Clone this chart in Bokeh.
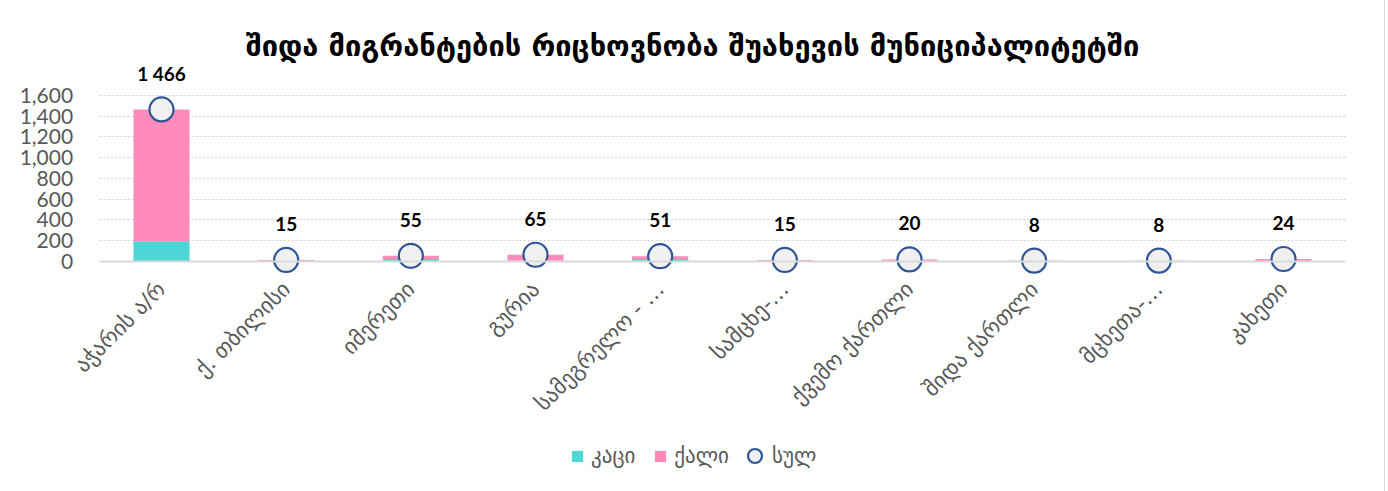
import math
from bokeh.plotting import figure
from bokeh.models import (ColumnDataSource, Range1d, FixedTicker, NumeralTickFormatter,
                          Legend, LegendItem, Title, Grid)
from bokeh.core.properties import value
from bokeh.embed import file_html
from bokeh.resources import INLINE

# ---- data ----
regions = ["აჭარის ა/რ", "ქ. თბილისი", "იმერეთი", "გურია", "სამეგრელო - …",
           "სამცხე-…", "ქვემო ქართლი", "შიდა ქართლი", "მცხეთა-…", "კახეთი"]
male = [195, 2, 15, 6, 14, 1, 2, 1, 1, 4]
total = [1466, 15, 55, 65, 51, 15, 20, 8, 8, 24]
female = [t - m for t, m in zip(total, male)]
y_ticks = [0, 200, 400, 600, 800, 1000, 1200, 1400, 1600]
title_text = "შიდა მიგრანტების რიცხოვნობა შუახევის მუნიციპალიტეტში"
series_names = ["კაცი", "ქალი", "სულ"]

colors = ["#4FD6D6", "#FF8BBA"]
GEO = "DejaVu Sans"
NUM = "Lato"

n = len(regions)
pos = list(range(n))
src = ColumnDataSource(dict(
    x=pos, male=male, female=female, total=total,
    lbl=[f"{v:,}".replace(",", " ") for v in total],
))

W, H = 1384, 491
p = figure(x_range=Range1d(-1.2914, -1.2914 + W / 124.67),
           y_range=Range1d(-2217, 1918),
           width=W, height=H,
           min_border_left=0, min_border_right=0,
           min_border_top=62, min_border_bottom=0,
           output_backend="svg", toolbar_location=None,
           background_fill_color="white", border_fill_color="white")
p.outline_line_color = None
p.styles = {"outline": "1px solid #d9d9d9"}

t = Title(text=title_text, align="center", text_font=GEO, text_font_size="29px",
          text_font_style="bold", text_color="black", standoff=0)
p.add_layout(t, "above")

bars = p.vbar_stack(["male", "female"], x="x", width=0.45, color=colors,
                    line_color=None, source=src)
circ = p.scatter(x="x", y="total", size=24, fill_color="#F0F0F0",
                 line_color="#2F5597", line_width=2.2, source=src)
p.text(x="x", y="total", text="lbl", y_offset=-36, text_align="center",
       text_baseline="middle", text_font=value(NUM), text_font_style="bold",
       text_font_size="19px", text_color="black", source=src)

# y axis (kept at the left edge of the category area)
p.yaxis.fixed_location = -0.5
p.yaxis.bounds = (0, 1600)
p.yaxis.ticker = FixedTicker(ticks=y_ticks)
p.yaxis.formatter = NumeralTickFormatter(format="0,0")
p.yaxis.axis_line_color = None
p.yaxis.major_tick_line_color = None
p.yaxis.minor_tick_line_color = None
p.yaxis.major_label_text_font = NUM
p.yaxis.major_label_text_font_size = "21px"
p.yaxis.major_label_text_color = "#595959"
p.yaxis.major_label_standoff = 20

# x axis at zero
p.xaxis.fixed_location = 0
p.xaxis.bounds = (-0.5, n - 0.5)
p.xaxis.ticker = FixedTicker(ticks=pos)
p.xaxis.major_label_overrides = {i: r for i, r in zip(pos, regions)}
p.xaxis.axis_line_color = "#D9D9D9"
p.xaxis.axis_line_width = 2
p.xaxis.major_tick_line_color = None
p.xaxis.minor_tick_line_color = None
p.xaxis.major_label_orientation = math.pi / 4
p.xaxis.major_label_text_font = GEO
p.xaxis.major_label_text_font_size = "22px"
p.xaxis.major_label_text_color = "#595959"
p.xaxis.major_label_standoff = 18

p.xgrid.grid_line_color = None
if "cross_bounds" in Grid.properties():
    p.ygrid.ticker = FixedTicker(ticks=y_ticks[1:])
    p.ygrid.cross_bounds = (-0.5, n - 0.5)
    p.ygrid.grid_line_color = "#D0D0D0"
    p.ygrid.grid_line_dash = "2 2"
    p.ygrid.grid_line_width = 1.2
else:
    p.ygrid.grid_line_color = None
    p.segment(x0=-0.5, x1=n - 0.5, y0=y_ticks[1:], y1=y_ticks[1:],
              line_color="#D0D0D0", line_dash="2 2", line_width=1.2)

legend_a = Legend(items=[LegendItem(label=series_names[0], renderers=[bars[0]]),
                         LegendItem(label=series_names[1], renderers=[bars[1]])],
                  orientation="horizontal", location=(570, 23),
                  border_line_color=None, background_fill_alpha=0,
                  padding=0, margin=0, spacing=18, label_standoff=7,
                  glyph_width=14, glyph_height=14,
                  label_text_font=GEO, label_text_font_size="21px",
                  label_text_color="#595959")
legend_b = Legend(items=[LegendItem(label=series_names[2], renderers=[circ])],
                  orientation="horizontal", location=(737, 18),
                  border_line_color=None, background_fill_alpha=0,
                  padding=0, margin=0, label_standoff=0,
                  glyph_width=35, glyph_height=35,
                  label_text_font=GEO, label_text_font_size="21px",
                  label_text_color="#595959")
p.add_layout(legend_a, "center")
p.add_layout(legend_b, "center")

open("out.html", "w").write(file_html(p, INLINE))
